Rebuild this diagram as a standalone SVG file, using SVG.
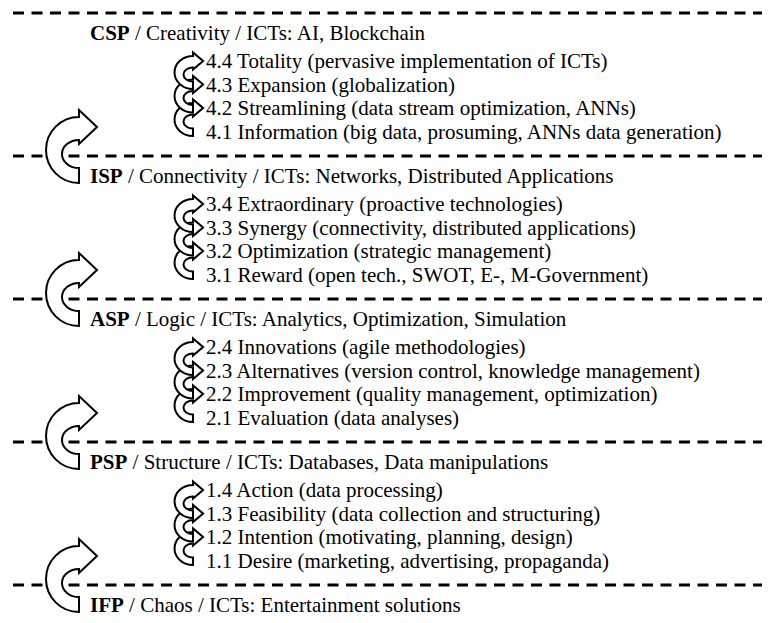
<svg xmlns="http://www.w3.org/2000/svg" width="769" height="623" viewBox="0 0 769 623">
<style>
text{font-size:21px;fill:#000;font-family:'Liberation Serif',Tinos,Times,FreeSerif,serif}
.b{font-weight:bold}
.dash{stroke:#000;stroke-width:3;stroke-dasharray:11 7.5;fill:none}
.arr{fill:#fff;stroke:#000;stroke-width:2;stroke-linejoin:miter;vector-effect:non-scaling-stroke}
</style>
<defs>
<path id="ca" class="arr" d="M0,33 A33,33 0 0 1 0,-33 L0,-40 L18,-23 L0,-6 L0,-10 A17,14 0 0 0 0,18 Z"/>
</defs>
<g id="separators">
<line class="dash" x1="13" y1="13" x2="762" y2="13"/>
<line class="dash" x1="13" y1="156" x2="762" y2="156"/>
<line class="dash" x1="13" y1="299" x2="762" y2="299"/>
<line class="dash" x1="13" y1="442" x2="762" y2="442"/>
<line class="dash" x1="13" y1="585" x2="762" y2="585"/>
</g>
<g id="connectors">
<use href="#ca" transform="translate(79,150)"/>
<use href="#ca" transform="translate(79,293)"/>
<use href="#ca" transform="translate(79,436)"/>
<use href="#ca" transform="translate(79,579)"/>
<use href="#ca" transform="translate(193,119.5) scale(0.56,0.5)"/>
<use href="#ca" transform="translate(193,96) scale(0.56,0.5)"/>
<use href="#ca" transform="translate(193,72.5) scale(0.56,0.5)"/>
<use href="#ca" transform="translate(193,262.5) scale(0.56,0.5)"/>
<use href="#ca" transform="translate(193,239) scale(0.56,0.5)"/>
<use href="#ca" transform="translate(193,215.5) scale(0.56,0.5)"/>
<use href="#ca" transform="translate(193,405.5) scale(0.56,0.5)"/>
<use href="#ca" transform="translate(193,382) scale(0.56,0.5)"/>
<use href="#ca" transform="translate(193,358.5) scale(0.56,0.5)"/>
<use href="#ca" transform="translate(193,548.5) scale(0.56,0.5)"/>
<use href="#ca" transform="translate(193,525) scale(0.56,0.5)"/>
<use href="#ca" transform="translate(193,501.5) scale(0.56,0.5)"/>
</g>
<g id="csp">
<text x="90" y="40"><tspan class="b">CSP</tspan> / Creativity / ICTs: AI, Blockchain</text>
<text x="206" y="68">4.4 Totality (pervasive implementation of ICTs)</text>
<text x="206" y="91.5">4.3 Expansion (globalization)</text>
<text x="206" y="115">4.2 Streamlining (data stream optimization, ANNs)</text>
<text x="206" y="138.5">4.1 Information (big data, prosuming, ANNs data generation)</text>
</g>
<g id="isp">
<text x="90" y="183"><tspan class="b">ISP</tspan> / Connectivity / ICTs: Networks, Distributed Applications</text>
<text x="206" y="211">3.4 Extraordinary (proactive technologies)</text>
<text x="206" y="234.5">3.3 Synergy (connectivity, distributed applications)</text>
<text x="206" y="258">3.2 Optimization (strategic management)</text>
<text x="206" y="281.5">3.1 Reward (open tech., SWOT, E-, M-Government)</text>
</g>
<g id="asp">
<text x="90" y="326"><tspan class="b">ASP</tspan> / Logic / ICTs: Analytics, Optimization, Simulation</text>
<text x="206" y="354">2.4 Innovations (agile methodologies)</text>
<text x="206" y="377.5">2.3 Alternatives (version control, knowledge management)</text>
<text x="206" y="401">2.2 Improvement (quality management, optimization)</text>
<text x="206" y="424.5">2.1 Evaluation (data analyses)</text>
</g>
<g id="psp">
<text x="90" y="469"><tspan class="b">PSP</tspan> / Structure / ICTs: Databases, Data manipulations</text>
<text x="206" y="497">1.4 Action (data processing)</text>
<text x="206" y="520.5">1.3 Feasibility (data collection and structuring)</text>
<text x="206" y="544">1.2 Intention (motivating, planning, design)</text>
<text x="206" y="567.5">1.1 Desire (marketing, advertising, propaganda)</text>
</g>
<g id="ifp">
<text x="90" y="612"><tspan class="b">IFP</tspan> / Chaos / ICTs: Entertainment solutions</text>
</g>
</svg>
